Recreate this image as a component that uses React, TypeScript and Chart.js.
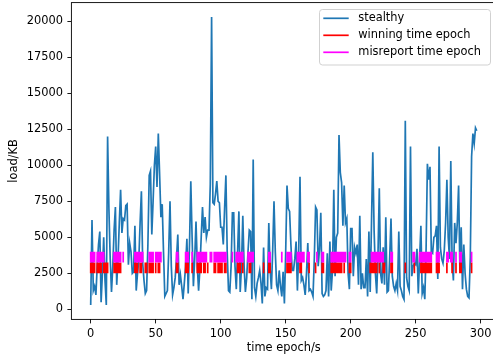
import React, { useEffect, useRef } from "react";
import { Chart, registerables } from "chart.js";

Chart.register(...registerables);

// ---- data ----
const loadKB: number[] = [
  300, 6200, 1300, 1600, 1000, 3000, 4500, 5400, 500, 2500,
  5000, 2000, 300, 12000, 7000, 3500, 1200, 3000, 5500, 7100,
  1700, 3500, 6000, 8300, 5300, 6300, 6200, 7200, 7300, 3100,
  4600, 4000, 2500, 2600, 5800, 1300, 2500, 3400, 6000, 8200,
  3200, 2000, 1100, 1300, 4500, 9300, 9600, 5200, 7500, 10000,
  11300, 8500, 12200, 9400, 6400, 7300, 4000, 900, 1100, 1300,
  4000, 7500, 3000, 1000, 1500, 2200, 3500, 5200, 1700, 2400,
  1600, 700, 1800, 3000, 4900, 1100, 4500, 8900, 5000, 1600,
  3500, 6100, 3000, 1300, 2800, 5000, 7100, 5300, 6400, 5000,
  5500, 5500, 8700, 20300, 7400, 7300, 8000, 8900, 7500, 7400,
  5700, 5700, 4500, 7000, 9300, 4000, 1300, 1200, 3000, 6700,
  6700, 3000, 1400, 4000, 6800, 1200, 3000, 6500, 3000, 1200,
  2200, 4000, 5500, 5400, 700, 10400, 1500, 900, 1800, 2200,
  2700, 1800, 400, 4300, 900, 1500, 1400, 6000, 2800, 1400,
  4100, 7500, 4000, 1700, 1300, 2700, 1600, 900, 2600, 400,
  4000, 8600, 7000, 6800, 4500, 2700, 2700, 3500, 4700, 1300,
  4000, 9200, 2000, 2200, 1700, 1000, 2500, 4600, 1300, 1400,
  1200, 900, 3500, 7100, 6900, 3000, 4200, 6700, 1100, 900,
  1000, 1300, 3900, 900, 4700, 1300, 2700, 8300, 2300, 5000,
  5300, 12100, 9500, 8800, 5800, 8600, 6000, 6300, 2500, 1400,
  5600, 5600, 2300, 4300, 3900, 4500, 1700, 6500, 1400, 2500,
  1500, 1500, 3500, 900, 5400, 1200, 6000, 10900, 5500, 2500,
  1100, 3800, 8400, 2500, 1800, 4300, 1700, 6400, 1200, 1300,
  3600, 6300, 2300, 1600, 1300, 1800, 1300, 5400, 1600, 1300,
  900, 700, 13100, 2200, 1600, 1300, 11300, 2300, 3000, 3200,
  3100, 4200, 1100, 3500, 5800, 1100, 1500, 700, 4200, 10100,
  9000, 9900, 4000, 3900, 5000, 5100, 5800, 2100, 11300, 4300,
  3500, 3200, 4100, 6000, 9000, 5000, 3500, 10300, 3400, 2000,
  6000, 4600, 6000, 8600, 2700, 5700, 1400, 4500, 2500, 1400,
  900, 800, 3600, 10600, 12200, 11500, 12600, 12400,
];

const winningEpochs: number[] = [
  0, 1, 2, 3, 5, 6, 7, 8, 10, 11, 12, 13, 18, 19, 20, 21, 22, 23,
  34, 35, 36, 38, 39, 42, 43, 45, 46, 47, 48, 50, 52, 53, 66, 67,
  73, 74, 75, 78, 82, 83, 84, 85, 87, 88, 90, 95, 96, 98, 99, 100,
  101, 103, 104, 113, 114, 115, 117, 122, 123, 133, 137, 138, 151,
  152, 153, 154, 161, 162, 168, 173, 178, 179, 185, 186, 187, 188,
  189, 190, 191, 192, 193, 195, 199, 200, 215, 216, 217, 218, 219,
  220, 222, 225, 226, 231, 232, 242, 249, 254, 255, 256, 257, 258,
  259, 260, 261, 262, 266, 267, 268, 274, 278, 281, 284, 285, 293,
];

const misreportEpochs: number[] = [
  0, 1, 2, 3, 5, 6, 7, 8, 9, 10, 18, 19, 20, 21, 22, 23, 25, 34, 35,
  36, 37, 38, 39, 40, 45, 46, 47, 48, 50, 51, 52, 53, 54, 66, 67, 73,
  74, 75, 78, 82, 83, 84, 85, 86, 87, 88, 89, 92, 93, 95, 96, 97, 98,
  99, 100, 101, 102, 103, 104, 109, 112, 113, 114, 115, 116, 117, 121,
  122, 123, 124, 125, 137, 138, 147, 151, 152, 153, 154, 159, 160, 161,
  162, 163, 164, 167, 168, 174, 178, 179, 185, 186, 187, 188, 189, 190,
  191, 192, 193, 194, 195, 196, 199, 200, 216, 217, 218, 219, 220, 221,
  222, 223, 224, 225, 231, 232, 248, 249, 253, 254, 255, 256, 257, 258,
  259, 260, 261, 262, 266, 267, 268, 274, 275, 277, 278, 281, 284, 285,
  293,
];

const winningRange: number[] = [2500, 3250];
const misreportRange: number[] = [3250, 4000];
const seriesLabels: string[] = ["stealthy", "winning time epoch", "misreport time epoch"];
const xTicks: number[] = [0, 50, 100, 150, 200, 250, 300];
const yTicks: number[] = [0, 2500, 5000, 7500, 10000, 12500, 15000, 17500, 20000];
const xLabel = "time epoch/s";
const yLabel = "load/KB";

// ---- styling ----
const FONT = "DejaVu Sans";
const FS = 11.4;
const BLUE = "#1f77b4";
const RED = "#ff0000";
const MAGENTA = "#ff00ff";

function eventSegments(epochs: number[], range: number[]) {
  const pts: { x: number; y: number | null }[] = [];
  epochs.forEach((e) => {
    pts.push({ x: e, y: range[0] }, { x: e, y: range[1] }, { x: e, y: null });
  });
  return pts;
}

function padRange(vals: number[]) {
  const lo = Math.min(...vals);
  const hi = Math.max(...vals);
  const m = (hi - lo) * 0.05;
  return [lo - m, hi + m];
}

const framePlugin = {
  id: "mplFrameLegend",
  afterDraw(chart: any) {
    const { ctx, chartArea } = chart;
    ctx.save();
    ctx.strokeStyle = "#000";
    ctx.lineWidth = 0.9;
    ctx.strokeRect(chartArea.left, chartArea.top, chartArea.right - chartArea.left, chartArea.bottom - chartArea.top);

    // legend box (matplotlib style)
    const x0 = 319.5, y0 = 9.5, w = 171, h = 55.5, r = 3;
    ctx.beginPath();
    ctx.moveTo(x0 + r, y0);
    ctx.lineTo(x0 + w - r, y0);
    ctx.quadraticCurveTo(x0 + w, y0, x0 + w, y0 + r);
    ctx.lineTo(x0 + w, y0 + h - r);
    ctx.quadraticCurveTo(x0 + w, y0 + h, x0 + w - r, y0 + h);
    ctx.lineTo(x0 + r, y0 + h);
    ctx.quadraticCurveTo(x0, y0 + h, x0, y0 + h - r);
    ctx.lineTo(x0, y0 + r);
    ctx.quadraticCurveTo(x0, y0, x0 + r, y0);
    ctx.closePath();
    ctx.fillStyle = "rgba(255,255,255,0.8)";
    ctx.fill();
    ctx.strokeStyle = "#cccccc";
    ctx.lineWidth = 0.9;
    ctx.stroke();

    chart.data.datasets.forEach((ds: any, i: number) => {
      const y = 18.3 + i * 17;
      ctx.beginPath();
      ctx.strokeStyle = ds.borderColor;
      ctx.lineWidth = 1.7;
      ctx.moveTo(323.3, y);
      ctx.lineTo(348.7, y);
      ctx.stroke();
      ctx.fillStyle = "#000";
      ctx.font = `${FS}px "${FONT}"`;
      ctx.textBaseline = "middle";
      ctx.textAlign = "left";
      ctx.fillText(ds.label, 358.3, y);
    });
    ctx.restore();
  },
};

export default function App() {
  const ref = useRef<HTMLCanvasElement | null>(null);

  useEffect(() => {
    if (!ref.current) return;
    const xs = loadKB.map((_, i) => i);
    const [xMin, xMax] = padRange(xs);
    const [yMin, yMax] = padRange(loadKB);

    const tickFont = { family: FONT, size: FS };
    const chart = new Chart(ref.current, {
      type: "line",
      data: {
        datasets: [
          {
            label: seriesLabels[0],
            data: loadKB.map((v, i) => ({ x: i, y: v })),
            borderColor: BLUE,
            backgroundColor: BLUE,
            borderWidth: 1.7,
            pointRadius: 0,
            tension: 0,
            order: 2,
          },
          {
            label: seriesLabels[1],
            data: eventSegments(winningEpochs, winningRange),
            borderColor: RED,
            backgroundColor: RED,
            borderWidth: 1.7,
            borderCapStyle: "butt",
            pointRadius: 0,
            spanGaps: false,
            order: 1,
          },
          {
            label: seriesLabels[2],
            data: eventSegments(misreportEpochs, misreportRange),
            borderColor: MAGENTA,
            backgroundColor: MAGENTA,
            borderWidth: 1.7,
            borderCapStyle: "butt",
            pointRadius: 0,
            spanGaps: false,
            order: 0,
          },
        ],
      } as any,
      options: {
        animation: false,
        responsive: false,
        events: [],
        layout: { padding: { top: 2.6, right: 3.9, left: 0, bottom: 0 } },
        plugins: { legend: { display: false }, tooltip: { enabled: false } },
        scales: {
          x: {
            type: "linear",
            min: xMin,
            max: xMax,
            afterFit: (s: any) => {
              s.height = 40.6;
              s.paddingLeft = 0; s.paddingRight = 0; s.paddingTop = 0; s.paddingBottom = 0;
            },
            afterBuildTicks: (s: any) => { s.ticks = xTicks.map((v) => ({ value: v })); },
            grid: { display: true, drawOnChartArea: false, drawTicks: true, tickLength: 4, color: "#000", lineWidth: 0.9 },
            border: { display: false },
            ticks: { font: tickFont, color: "#000", padding: 3.5, maxRotation: 0, autoSkip: false, callback: (v: any) => String(v) },
            title: { display: true, text: xLabel, font: tickFont, color: "#000", padding: { top: 0, bottom: 5.1 } },
          },
          y: {
            type: "linear",
            min: yMin,
            max: yMax,
            afterFit: (s: any) => {
              s.width = 71.4;
              s.paddingLeft = 0; s.paddingRight = 0; s.paddingTop = 0; s.paddingBottom = 0;
            },
            afterBuildTicks: (s: any) => { s.ticks = yTicks.map((v) => ({ value: v })); },
            grid: { display: true, drawOnChartArea: false, drawTicks: true, tickLength: 4, color: "#000", lineWidth: 0.9 },
            border: { display: false },
            ticks: { font: tickFont, color: "#000", padding: 4.5, autoSkip: false, callback: (v: any) => String(v) },
            title: { display: true, text: yLabel, font: tickFont, color: "#000", padding: { top: 7.1, bottom: 0 } },
          },
        },
      } as any,
      plugins: [framePlugin],
    });
    return () => chart.destroy();
  }, []);

  return (
    <div style={{ position: "fixed", left: 0, top: 0, width: 493, height: 360, overflow: "hidden", background: "#fff" }}>
      <canvas ref={ref} width={500} height={360} style={{ display: "block", width: 500, height: 360 }} />
    </div>
  );
}
